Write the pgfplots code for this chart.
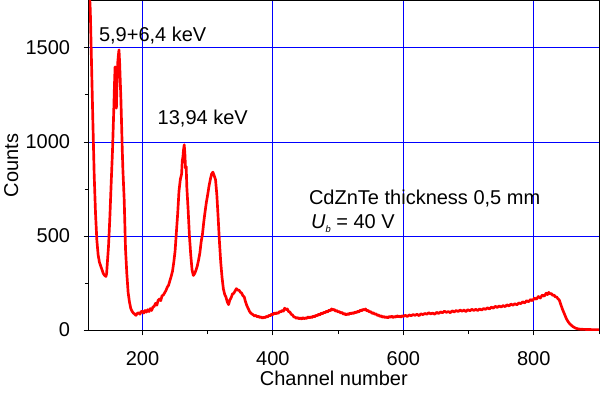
\documentclass[border=0pt]{standalone}
\usepackage{fontspec}
\setmainfont{Liberation Sans}
\usepackage{pgfplots}
\pgfplotsset{compat=1.18}
\begin{document}
\fontsize{15}{18}\selectfont
\begin{tikzpicture}[font=\fontsize{15}{18}\selectfont]
\begin{axis}[
 scale only axis, width=382.5pt, height=246.75pt,
 xmin=118, xmax=900, ymin=0, ymax=1750,
 xtick={200,400,600,800}, minor xtick={300,500,700,900},
 ytick={0,500,1000,1500}, minor ytick={250,750,1250},
 tick pos=left, tick align=outside,
 major tick length=4pt, minor tick length=3pt,
 every tick/.style={black, line width=0.75pt},
 xmajorgrids, ymajorgrids,
 grid style={blue, line width=0.75pt},
 axis line style={black, line width=0.75pt},
 /pgf/number format/assume math mode=true,
 /pgf/number format/set thousands separator={},
 xticklabel style={yshift=-7pt},
 yticklabel style={xshift=-5pt},
 xlabel={Channel number}, ylabel={Counts},
 xlabel style={at={(axis description cs:0.48,-0.169)}, anchor=base},
 ylabel style={at={(axis description cs:-0.139,0.5)}, anchor=base},
]
\addplot[red, line width=2pt, line join=round] table {
118 1850
120 1700
122 1400
124 1100
126 820
128 620
130 480
132 400
134 360
136 340
138 320
140 300
142 290
144 285
145 300
146 350
148 450
150 600
152 780
154 950
156 1170
157 1300
158 1400
159 1330
160 1180
161 1320
162 1420
163 1460
164 1490
165 1420
166 1320
167 1220
168 1090
169 960
170 850
172 690
174 430
176 300
178 200
180 150
182 115
184 100
186 90
188 85
190 78
192 88
194 92
196 84
198 98
200 100
202 90
204 104
206 95
208 108
210 98
212 114
214 104
216 122
218 126
220 142
222 132
224 158
226 165
228 156
230 182
232 186
234 198
236 210
238 228
240 238
242 262
244 285
246 312
248 360
250 420
252 520
254 620
256 740
258 800
260 830
261 900
262 920
263 960
264 985
265 940
266 860
267 870
268 760
270 640
272 500
274 400
276 320
278 290
280 300
282 318
284 340
286 372
288 410
290 470
292 510
294 575
296 630
298 680
300 720
302 765
304 800
306 830
308 840
310 820
312 800
314 720
316 600
318 470
320 360
322 280
324 220
326 190
328 175
330 150
332 135
334 160
336 172
338 192
340 195
342 208
344 220
346 212
348 212
350 202
352 196
354 182
356 176
358 150
360 130
362 115
364 100
366 90
368 85
370 80
372 74
374 78
376 70
378 73
380 66
382 70
384 63
386 68
388 66
390 72
392 70
394 78
396 76
398 84
400 82
402 90
404 86
406 92
408 88
410 98
412 96
414 104
416 100
418 116
420 108
422 112
424 98
426 96
428 84
430 80
432 70
434 68
436 62
438 66
440 60
442 64
444 58
446 66
448 60
450 64
452 62
454 70
456 64
458 70
460 66
462 74
464 70
466 78
468 76
470 84
472 80
474 90
476 86
478 94
480 92
482 100
484 96
486 106
488 102
490 112
492 106
494 110
496 100
498 104
500 96
502 98
504 90
506 94
508 84
510 88
512 80
514 86
516 82
518 90
520 86
522 92
524 88
526 96
528 92
530 100
532 96
534 106
536 102
538 110
540 106
542 112
544 102
546 104
548 96
550 98
552 88
554 92
556 84
558 86
560 78
562 80
564 72
566 76
568 68
570 72
572 66
574 70
576 64
578 72
580 68
582 74
584 66
586 72
588 68
590 76
592 70
594 74
596 68
598 76
600 72
603 78
606 72
609 80
612 76
615 82
618 78
621 84
624 76
627 86
630 82
633 88
636 84
639 92
642 86
645 90
648 84
651 94
654 88
657 96
660 92
663 100
666 94
669 98
672 92
675 102
678 96
681 104
684 98
687 106
690 100
693 106
696 98
699 108
702 102
705 110
708 104
711 110
714 104
717 112
720 106
723 114
726 110
729 118
732 112
735 122
738 116
741 126
744 120
747 128
750 122
753 130
756 124
759 134
762 128
765 138
768 132
771 140
774 134
777 144
780 140
783 150
786 144
789 156
792 150
795 162
798 156
801 170
804 164
807 178
810 170
813 186
816 180
819 196
821 188
823 200
825 192
827 194
829 184
831 186
833 176
835 176
837 166
839 160
841 140
844 110
847 85
850 60
853 42
856 30
860 18
864 10
868 6
872 4
880 3
890 2
900 2
};
\node[anchor=base west, inner sep=0pt] at (axis cs:133,1533) {5,9+6,4 keV};
\node[anchor=base west, inner sep=0pt] at (axis cs:223,1092) {13,94 keV};
\node[anchor=base west, inner sep=0pt] at (axis cs:455,666) {CdZnTe thickness 0,5 mm};
\node[anchor=base west, inner sep=0pt] at (axis cs:458,542) {\textit{U}\raisebox{-0.45ex}{\fontsize{7}{8}\selectfont\textit{b}} = 40 V};
\end{axis}
\pgfresetboundingbox
\path[use as bounding box] ([shift={(-66.75pt,-47.25pt)}]current axis.south west) rectangle ([shift={(0.75pt,0.75pt)}]current axis.north east);
\end{tikzpicture}
\end{document}
